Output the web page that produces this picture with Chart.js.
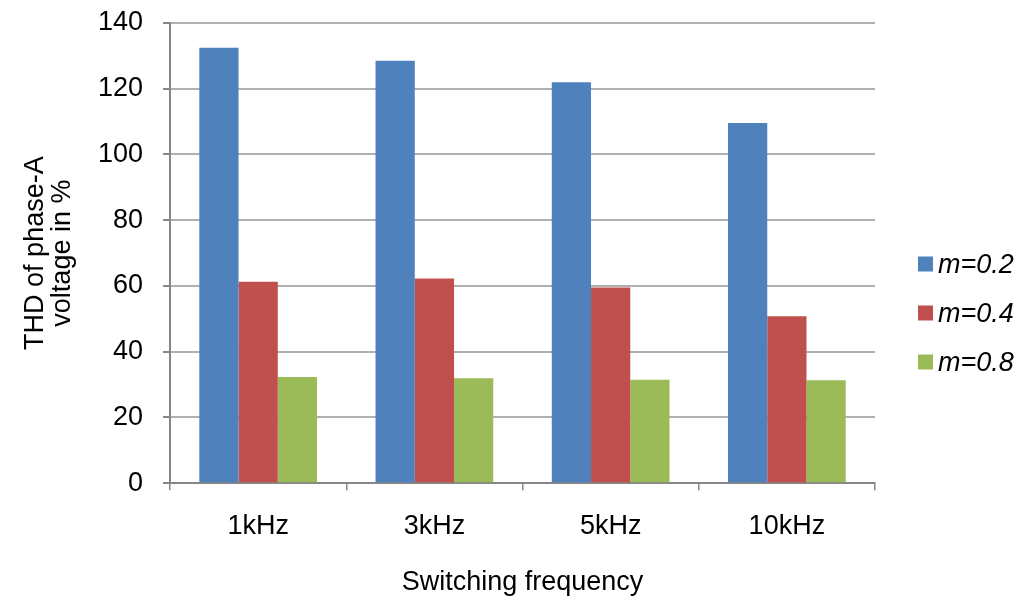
<!DOCTYPE html>
<html>
<head>
<meta charset="utf-8">
<script src="https://cdn.jsdelivr.net/npm/chart.js@4/dist/chart.umd.min.js"></script>
<style>
  html, body { margin: 0; padding: 0; background: #ffffff; }
  #wrap { width: 1026px; height: 600px; }
</style>
</head>
<body>
<div id="wrap"><canvas id="c" width="1026" height="600"></canvas></div>
<script>
// Switching frequencies on the x axis
const categories = ['1kHz', '3kHz', '5kHz', '10kHz'];
// THD of phase-A voltage (%) for each modulation index
const thdM02 = [132.5, 128.5, 122.0, 109.6];
const thdM04 = [61.3, 62.3, 59.5, 50.8];
const thdM08 = [32.3, 31.9, 31.5, 31.3];
const seriesLabels = ['m=0.2', 'm=0.4', 'm=0.8'];
const yTicks = [0, 20, 40, 60, 80, 100, 120, 140];

const colors = ['#4F81BD', '#C0504D', '#9BBB59'];
const FONT = '"Liberation Sans", Arial, sans-serif';
const FS = 27;

// Vertical legend to the right of the plot: colour square + italic series name
const sideLegend = {
  id: 'sideLegend',
  afterDraw(chart) {
    const c = chart.ctx;
    const area = chart.chartArea;
    const items = chart.data.datasets;
    const box = 15, gap = 49;
    const x0 = area.right + 43;
    const yMid = chart.height / 2 + 13;
    const yStart = yMid - gap * (items.length - 1) / 2;
    c.save();
    c.font = 'italic ' + FS + 'px ' + FONT;
    c.textBaseline = 'middle';
    c.textAlign = 'left';
    items.forEach((ds, i) => {
      const y = yStart + i * gap;
      c.fillStyle = ds.backgroundColor;
      c.fillRect(x0, y - box / 2, box, box);
      c.fillStyle = '#000';
      c.fillText(ds.label, x0 + box + 5, y + 1);
    });
    c.restore();
  }
};

const ctx = document.getElementById('c').getContext('2d');
new Chart(ctx, {
  type: 'bar',
  data: {
    labels: categories,
    datasets: [thdM02, thdM04, thdM08].map((vals, i) => ({
      label: seriesLabels[i],
      data: vals,
      backgroundColor: colors[i],
      borderWidth: 0,
      categoryPercentage: 0.668,
      barPercentage: 1.0
    }))
  },
  plugins: [sideLegend],
  options: {
    responsive: false,
    animation: false,
    devicePixelRatio: 1,
    layout: { padding: { left: 22, right: 151, top: 23, bottom: 1 } },
    plugins: {
      tooltip: { enabled: false },
      legend: { display: false }
    },
    scales: {
      x: {
        offset: true,
        grid: {
          offset: true,
          drawOnChartArea: false,
          drawTicks: true,
          tickLength: 7,
          color: '#868686',
          lineWidth: 1.5
        },
        border: { display: true, color: '#868686', width: 2 },
        ticks: {
          color: '#000',
          font: { family: FONT, size: FS },
          padding: 20
        },
        title: {
          display: true,
          text: 'Switching frequency',
          color: '#000',
          font: { family: FONT, size: FS },
          padding: { top: 4, bottom: 0 }
        }
      },
      y: {
        min: 0,
        max: 140,
        afterBuildTicks: (axis) => { axis.ticks = yTicks.map(v => ({ value: v })); },
        afterFit: (axis) => { axis.paddingTop = 0; },
        grid: {
          color: '#b0b0b0',
          lineWidth: 2,
          drawTicks: true,
          tickLength: 7,
          tickColor: '#868686'
        },
        border: { display: true, color: '#868686', width: 2 },
        ticks: {
          color: '#000',
          font: { family: FONT, size: FS },
          padding: 20
        },
        title: {
          display: true,
          text: ['THD of phase-A', 'voltage in %'],
          color: '#000',
          font: { family: FONT, size: FS, lineHeight: 1.0 },
          padding: { top: 0, bottom: 2 }
        }
      }
    }
  }
});
</script>
</body>
</html>
